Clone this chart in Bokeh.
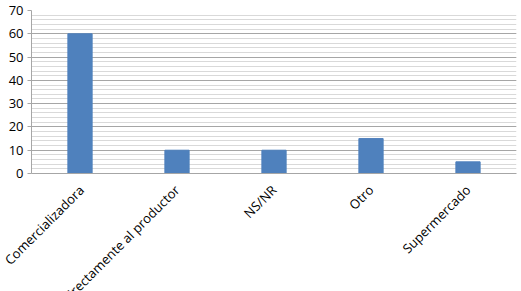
from bokeh.plotting import figure
from bokeh.models import Range1d, FixedTicker
from bokeh.embed import file_html
from bokeh.resources import INLINE
import math

categories = ["Comercializadora", "Directamente al productor", "NS/NR", "Otro", "Supermercado"]
values = [60, 10, 10, 15, 5]
y_ticks = [0, 10, 20, 30, 40, 50, 60, 70]

p = figure(x_range=categories, y_range=Range1d(0, 70),
           frame_width=485, frame_height=163,
           min_border_left=31, min_border_top=10, min_border_right=5, min_border_bottom=0,
           output_backend="svg", toolbar_location=None)

p.vbar(x=categories, top=values, width=0.25, color="#4F81BD", line_color="#4F81BD")

p.xgrid.grid_line_color = None
p.ygrid.ticker = FixedTicker(ticks=y_ticks, minor_ticks=list(range(0, 71, 2)))
p.ygrid.grid_line_color = "#A6A6A6"
p.ygrid.minor_grid_line_color = "#D9D9D9"
p.ygrid.level = "underlay"

p.yaxis.ticker = FixedTicker(ticks=y_ticks, minor_ticks=[])
p.yaxis.axis_line_color = "#A6A6A6"
p.yaxis.major_tick_line_color = "#A6A6A6"
p.yaxis.major_tick_out = 4
p.yaxis.major_tick_in = 0
p.yaxis.minor_tick_line_color = None
p.yaxis.major_label_text_font = "Open Sans"
p.yaxis.major_label_text_font_size = "13px"
p.yaxis.major_label_text_color = "#000000"
p.yaxis.major_label_standoff = 4

p.xaxis.axis_line_color = "#A6A6A6"
p.xaxis.major_tick_line_color = None
p.xaxis.minor_tick_line_color = None
p.xaxis.major_label_orientation = math.pi / 4
p.xaxis.major_label_text_font = "Open Sans"
p.xaxis.major_label_text_font_size = "13px"
p.xaxis.major_label_text_color = "#000000"
p.xaxis.major_label_standoff = 8

p.outline_line_color = None

open("out.html", "w").write(file_html(p, INLINE))
